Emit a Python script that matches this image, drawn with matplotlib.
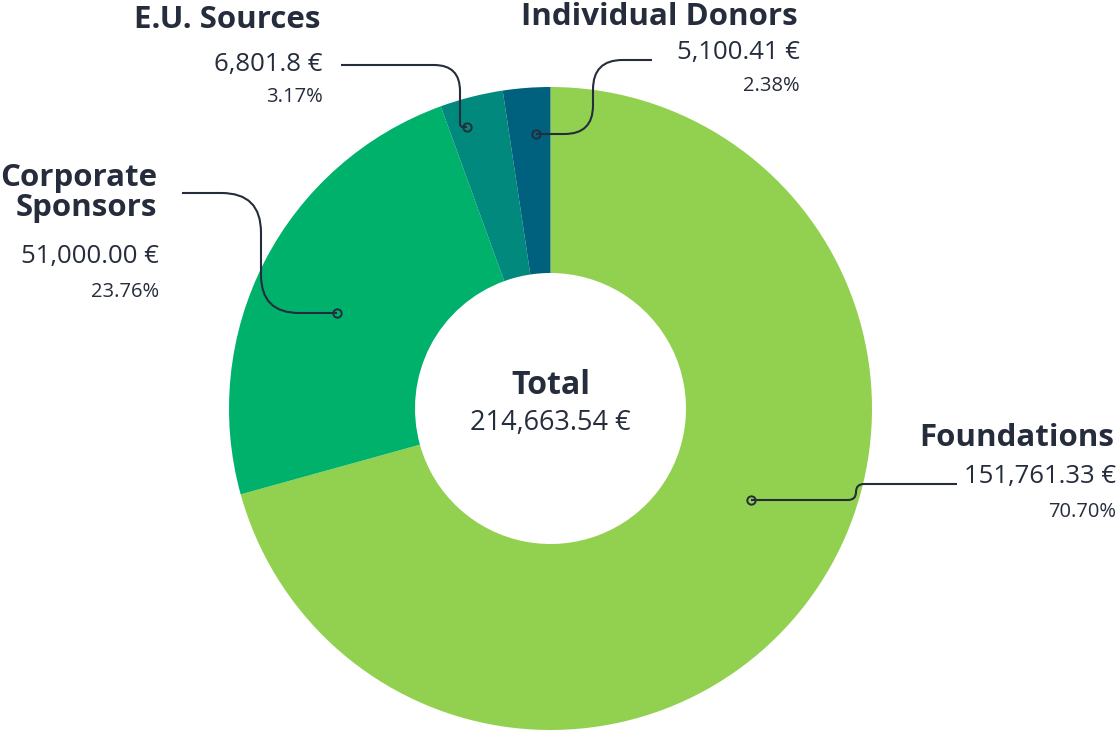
import matplotlib.pyplot as plt
from matplotlib.path import Path
from matplotlib.patches import PathPatch

# data
labels = ["Foundations", "Corporate\nSponsors", "E.U. Sources", "Individual Donors"]
values = [151761.33, 51000.00, 6801.8, 5100.41]
value_text = ["151,761.33 €", "51,000.00 €", "6,801.8 €", "5,100.41 €"]
colors = ["#92D050", "#00B16B", "#00897C", "#00617F"]
total = sum(values)

W, H = 1117, 731
ink = "#252C3B"
plt.rcParams['font.family'] = ['Open Sans', 'DejaVu Sans']

fig = plt.figure(figsize=(W / 100, H / 100), dpi=100)
ax = fig.add_axes([0, 0, 1, 1])

cx, cy = 550.5, H - 408.5
r_out, r_in = 321.5, 135.5
ax.pie(values, colors=colors, startangle=90, counterclock=False,
       center=(cx, cy), radius=r_out,
       wedgeprops=dict(width=r_out - r_in, linewidth=0))
ax.set_xlim(0, W)
ax.set_ylim(0, H)
ax.set_aspect('equal')
ax.axis('off')


def leader(pts, rad):
    # polyline with rounded corners, pts in pixel coords (y down)
    p = [(x, H - y) for x, y in pts]
    verts = [p[0]]
    codes = [Path.MOVETO]
    for i in range(1, len(p) - 1):
        (x0, y0), (x1, y1), (x2, y2) = p[i - 1], p[i], p[i + 1]
        d1 = ((x1 - x0) ** 2 + (y1 - y0) ** 2) ** 0.5
        d2 = ((x2 - x1) ** 2 + (y2 - y1) ** 2) ** 0.5
        r = min(rad, d1 / 2, d2 / 2)
        a = (x1 - (x1 - x0) / d1 * r, y1 - (y1 - y0) / d1 * r)
        b = (x1 + (x2 - x1) / d2 * r, y1 + (y2 - y1) / d2 * r)
        verts += [a, (x1, y1), b]
        codes += [Path.LINETO, Path.CURVE3, Path.CURVE3]
    verts.append(p[-1])
    codes.append(Path.LINETO)
    ax.add_patch(PathPatch(Path(verts, codes), fill=False, edgecolor=ink, lw=1.5))
    ax.plot(p[-1][0], p[-1][1], 'o', ms=6, mfc='none', mec=ink, mew=1.4)


leader([(957, 484), (856, 484), (856, 500), (751, 500)], 8)
leader([(182, 193), (261, 193), (261, 313), (337, 313)], 45)
leader([(341, 65), (460, 65), (460, 127), (467, 127)], 26)
leader([(652, 60), (593, 60), (593, 134), (536, 134)], 30)

# label positions: right edge x, y of name / value / percent (pixel coords)
lab_x = [1114, 157, 321, 798]
name_y = [438, 193, 20, 17]
val_y = [477, 256, 65, 52]
pct_y = [512, 292, 97, 86]

for i in range(len(labels)):
    ax.text(lab_x[i], H - name_y[i], labels[i], ha='right', va='center',
            fontsize=22.5, fontweight='bold', color=ink, linespacing=0.98)
    ax.text(lab_x[i] + 2, H - val_y[i], value_text[i], ha='right', va='center',
            fontsize=18.5, color=ink)
    ax.text(lab_x[i] + 2, H - pct_y[i], f"{values[i] / total * 100:.2f}%",
            ha='right', va='center', fontsize=14.5, color=ink)

ax.text(cx, H - 386, "Total", ha='center', va='center', fontsize=23,
        fontweight='bold', color=ink)
ax.text(cx, H - 423, f"{total:,.2f} €", ha='center', va='center',
        fontsize=19.5, color=ink)

fig.savefig("out.png", dpi=100)
